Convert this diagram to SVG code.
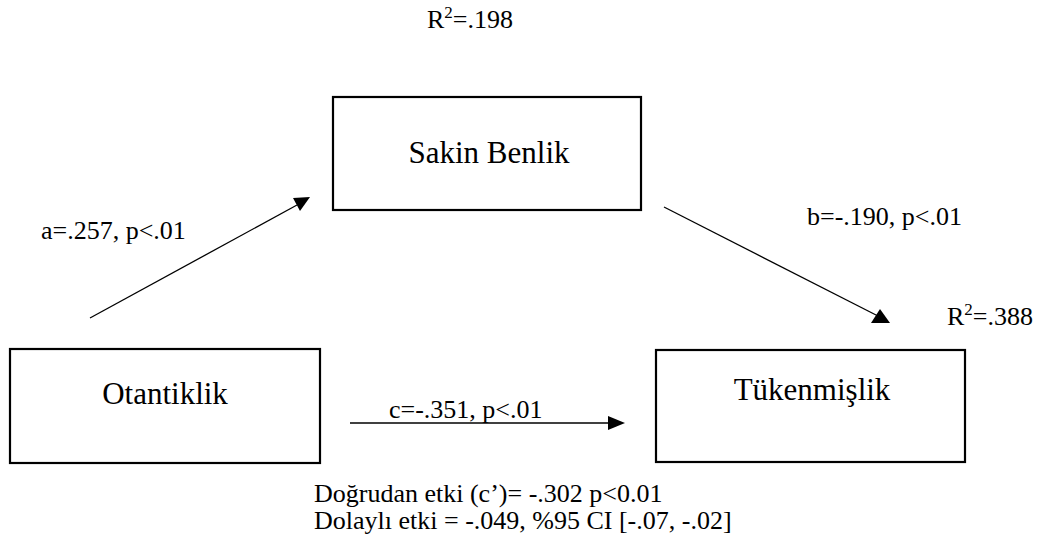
<svg xmlns="http://www.w3.org/2000/svg" width="1047" height="550" viewBox="0 0 1047 550">
<style>
.box{fill:#fff;stroke:#000;stroke-width:2.2}
text{font-family:'Liberation Serif',serif;fill:#000}
.big{font-size:31px}
.sm{font-size:26px}
.ln{stroke:#000;stroke-width:1.3;fill:none}
.hd{fill:#000}
</style>
<rect width="1047" height="550" fill="#fff"/>
<g id="node-sakin">
<rect class="box" x="333" y="97" width="308" height="113"/>
<text class="big" font-family="Liberation Serif, serif" x="489" y="163" text-anchor="middle">Sakin Benlik</text>
</g>
<g id="node-otantiklik">
<rect class="box" x="10" y="349" width="310" height="114"/>
<text class="big" font-family="Liberation Serif, serif" x="165" y="404" text-anchor="middle">Otantiklik</text>
</g>
<g id="node-tukenmislik">
<rect class="box" x="656" y="350" width="309" height="112"/>
<text class="big" font-family="Liberation Serif, serif" x="812" y="400" text-anchor="middle">Tükenmişlik</text>
</g>
<g id="connectors">
<line class="ln" x1="90" y1="318" x2="297" y2="205"/>
<polygon class="hd" points="293,198 310,197 300,211"/>
<line class="ln" x1="664" y1="207" x2="878" y2="316"/>
<polygon class="hd" points="880,309 871,323 890,323"/>
<line class="ln" x1="350" y1="423" x2="610" y2="423"/>
<polygon class="hd" points="608,416 625,423 608,430"/>
</g>
<g id="labels" font-family="Liberation Serif, serif">
<text class="sm" x="427" y="28">R<tspan font-size="17" dy="-10">2</tspan><tspan dy="10">=.198</tspan></text>
<text class="sm" x="947" y="325">R<tspan font-size="17" dy="-10">2</tspan><tspan dy="10">=.388</tspan></text>
<text class="sm" x="41" y="239">a=.257, p&lt;.01</text>
<text class="sm" x="807" y="225">b=-.190, p&lt;.01</text>
<text class="sm" x="389" y="418">c=-.351, p&lt;.01</text>
<text class="sm" x="314" y="502">Doğrudan etki (c’)= -.302 p&lt;0.01</text>
<text class="sm" x="314" y="529">Dolaylı etki = -.049, %95 CI [-.07, -.02]</text>
</g>
</svg>
